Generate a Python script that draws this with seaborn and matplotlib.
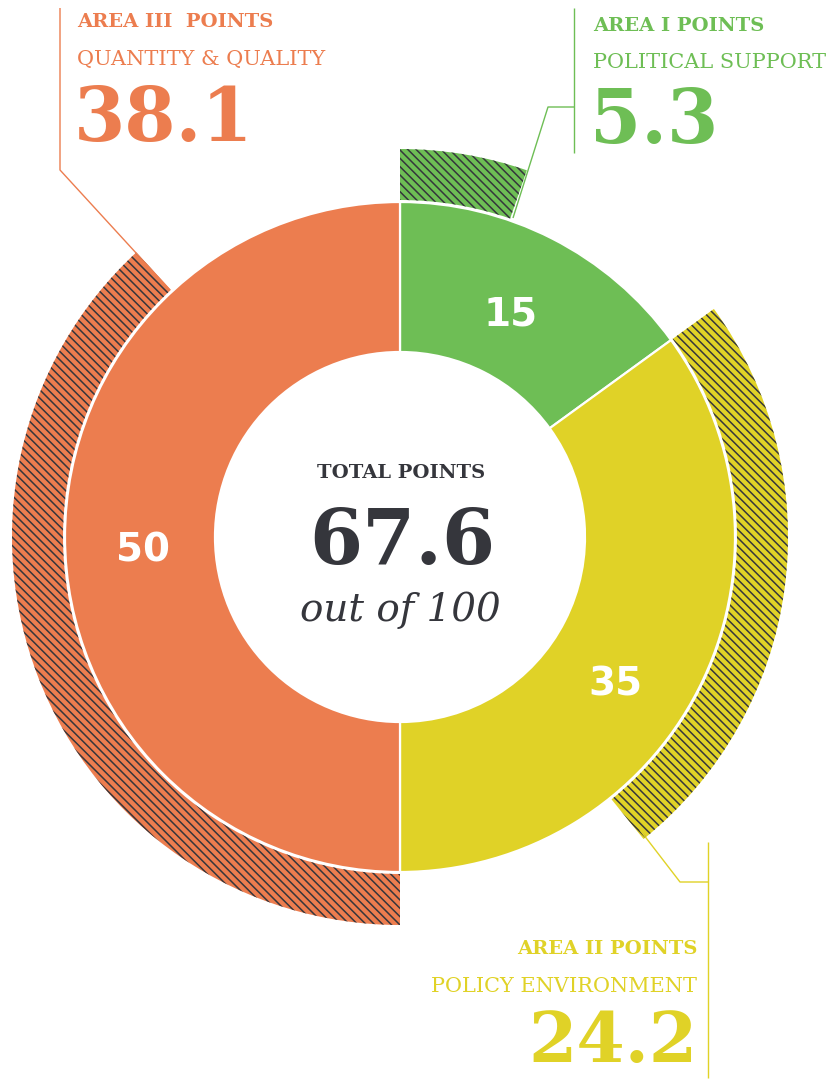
import numpy as np
import pandas as pd
import seaborn as sns
import matplotlib.pyplot as plt

# data
areas = ['Area I', 'Area II', 'Area III']
area_names = ['POLITICAL SUPPORT', 'POLICY ENVIRONMENT', 'QUANTITY & QUALITY']
area_titles = ['AREA I POINTS', 'AREA II POINTS', 'AREA III  POINTS']
max_points = [15, 35, 50]
scored = [5.3, 24.2, 38.1]
total = 67.6
colors = ['#6EBE55', '#E0D227', '#EC7D4F']
dark = '#35363C'

sns.set_theme(style='white')
plt.rcParams['font.family'] = ['DejaVu Serif', 'DejaVu Sans']
plt.rcParams['hatch.linewidth'] = 1.1
plt.rcParams['hatch.color'] = dark

W, H = 838, 1080
fig = plt.figure(figsize=(W / 100, H / 100), dpi=100)
ax = fig.add_axes([0, 0, 1, 1])

# pixel helper (image coords, y down)
def P(x, y):
    return x, H - y

cx, cy = P(400, 537)

# inner ring: max points per area
wedges, _, autotexts = ax.pie(max_points, colors=colors, startangle=90, counterclock=False,
                              radius=335, center=(cx, cy),
                              autopct=lambda p: f'{p:.0f}', pctdistance=0.775,
                              wedgeprops=dict(width=150, edgecolor='white', linewidth=1.6),
                              textprops=dict(color='white', fontsize=28, fontweight='bold',
                                             family='DejaVu Sans'))
# nudge the value labels to where the reference has them
for t, pos in zip(autotexts, [(511, 315), (615, 684), (143, 551)]):
    t.set_position(P(*pos))
    t.set_va('center')

# outer hatched ring: points scored
outer_vals, outer_cols, outer_hatch = [], [], []
for m, s, c in zip(max_points, scored, colors):
    outer_vals += [s, m - s]
    outer_cols += [c, 'none']
    outer_hatch += ['\\\\\\\\', '']
ax.pie(outer_vals, colors=outer_cols, hatch=outer_hatch, startangle=90, counterclock=False,
       radius=388, center=(cx, cy),
       wedgeprops=dict(width=51, edgecolor=dark, linewidth=0))

ax.set_xlim(0, W)
ax.set_ylim(0, H)
ax.set_aspect('equal')
ax.axis('off')

# centre text
ax.text(*P(401, 473), 'TOTAL POINTS', ha='center', va='center', fontsize=14,
        fontweight='bold', color=dark)
ax.text(*P(402, 543), f'{total}', ha='center', va='center', fontsize=55,
        fontweight='bold', color=dark)
ax.text(*P(400, 610), 'out of 100', ha='center', va='center', fontsize=28,
        style='italic', color=dark)

# area labels
ax.text(*P(77, 22), area_titles[2], ha='left', va='center', fontsize=14, fontweight='bold', color=colors[2])
ax.text(*P(77, 60), area_names[2], ha='left', va='center', fontsize=15, color=colors[2])
ax.text(*P(74, 120), f'{scored[2]}', ha='left', va='center', fontsize=53, fontweight='bold', color=colors[2])

ax.text(*P(593, 26), area_titles[0], ha='left', va='center', fontsize=14, fontweight='bold', color=colors[0])
ax.text(*P(593, 62), area_names[0], ha='left', va='center', fontsize=15, color=colors[0])
ax.text(*P(590, 122), f'{scored[0]}', ha='left', va='center', fontsize=53, fontweight='bold', color=colors[0])

ax.text(*P(697, 949), area_titles[1], ha='right', va='center', fontsize=14, fontweight='bold', color=colors[1])
ax.text(*P(697, 987), area_names[1], ha='right', va='center', fontsize=15, color=colors[1])
ax.text(*P(698, 1062), f'{scored[1]}', ha='right', va='baseline', fontsize=50, fontweight='bold', color=colors[1])

# leader lines
def leader(pts, c):
    xs, ys = zip(*[P(x, y) for x, y in pts])
    ax.plot(xs, ys, color=c, lw=1.0, solid_capstyle='butt')

leader([(60, 8), (60, 170), (170, 290)], colors[2])
leader([(574, 8), (574, 153)], colors[0])
leader([(574, 107), (548, 107), (513, 218)], colors[0])
leader([(708, 842), (708, 1078)], colors[1])
leader([(708, 882), (680, 882), (640, 830)], colors[1])

fig.savefig('out.png', dpi=100, facecolor='white')
